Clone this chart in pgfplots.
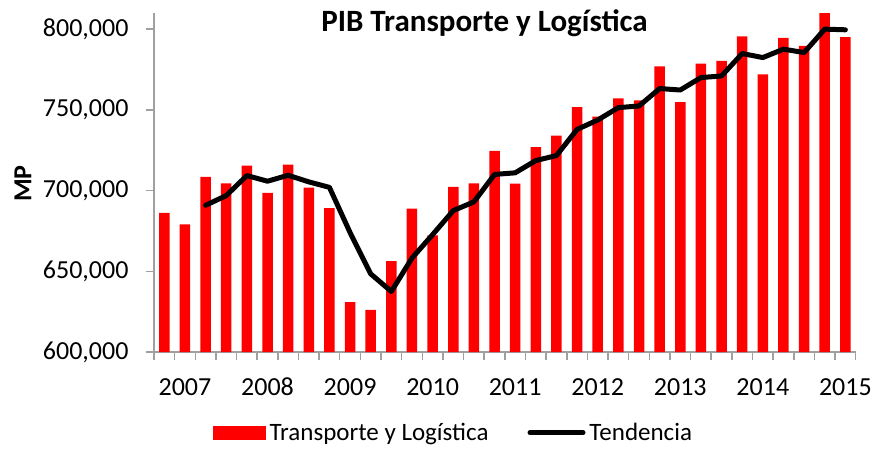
\documentclass[border=0pt]{standalone}
\usepackage{fontspec}
\setmainfont{Carlito}
\usepackage{pgfplots}
\pgfplotsset{compat=1.18}
\definecolor{axgray}{RGB}{160,160,160}
\begin{document}
\begin{tikzpicture}[x=1pt,y=1pt]
\path[use as bounding box] (0,0) rectangle (873,-448);
\begin{axis}[
  at={(154pt,-352pt)}, anchor=south west,
  scale only axis, width=701.7pt, height=339pt,
  xmin=-0.5, xmax=33.5, ymin=600000, ymax=810000,
  axis x line*=bottom, axis y line*=left,
  axis line style={axgray, line width=1.5pt, -},
  tick align=outside, major tick length=8pt, minor tick length=8pt,
  every tick/.style={axgray, line width=1.5pt},
  xtick={1,5,...,33},
  xticklabels={2007,2008,2009,2010,2011,2012,2013,2014,2015},
  major x tick style={draw=none},
  minor xtick={-0.5,0.5,...,33.5},
  ytick={600000,650000,...,800000},
  scaled y ticks=false,
  /pgf/number format/assume math mode=true,
  yticklabel style={/pgf/number format/fixed, /pgf/number format/1000 sep={,}, xshift=-14pt},
  xticklabel style={anchor=base, yshift=-35pt},
  ticklabel style={font=\fontsize{26}{30}\selectfont, text=black},
  title={PIB Transporte y Logística},
  title style={at={(axis description cs:0.471,0.952)}, anchor=center, font=\bfseries\fontsize{31}{34}\selectfont},
  ylabel={MP},
  ylabel style={at={(axis description cs:-0.1867,0.497)}, anchor=center, font=\bfseries\fontsize{26}{30}\selectfont},
  legend style={at={(axis description cs:0.428,-0.238)}, anchor=center, draw=none, fill=none,
    legend columns=-1, font=\fontsize{25}{29}\selectfont,
    /tikz/every even column/.append style={column sep=35pt},
    nodes={inner xsep=4pt}},
]
\addplot[ybar, bar width=10.5pt, fill=red, draw=none,
  legend image code/.code={\fill[red] (0pt,-7pt) rectangle (53pt,7pt);}]
coordinates {
(0,686150) (1,679100) (2,708500) (3,704500) (4,715500) (5,698600)
(6,716100) (7,701900) (8,689200) (9,630900) (10,626100) (11,656300)
(12,688800) (13,672200) (14,702300) (15,704500) (16,724600) (17,704300)
(18,726900) (19,734000) (20,751700) (21,745800) (22,757100) (23,755900)
(24,777000) (25,754800) (26,778700) (27,780300) (28,795500) (29,772000)
(30,794600) (31,789600) (32,811000) (33,795000)
};
\addlegendentry{Transporte y Logística}
\addplot[black, line width=5pt, line join=round, line cap=round,
  legend image code/.code={\draw[black, line width=5pt, line cap=round] (2pt,0pt) -- (55pt,0pt);}]
coordinates {
(2,690900) (3,696900) (4,709300) (5,705800) (6,709500) (7,705400)
(8,702000) (9,674000) (10,648400) (11,637500) (12,658200) (13,672700)
(14,687600) (15,693000) (16,710000) (17,711000) (18,718600) (19,721700)
(20,737900) (21,743700) (22,751400) (23,752400) (24,763200) (25,762300)
(26,770000) (27,771000) (28,784900) (29,782400) (30,787600) (31,785500)
(32,800000) (33,799600)
};
\addlegendentry{Tendencia}
\end{axis}
\end{tikzpicture}
\end{document}
